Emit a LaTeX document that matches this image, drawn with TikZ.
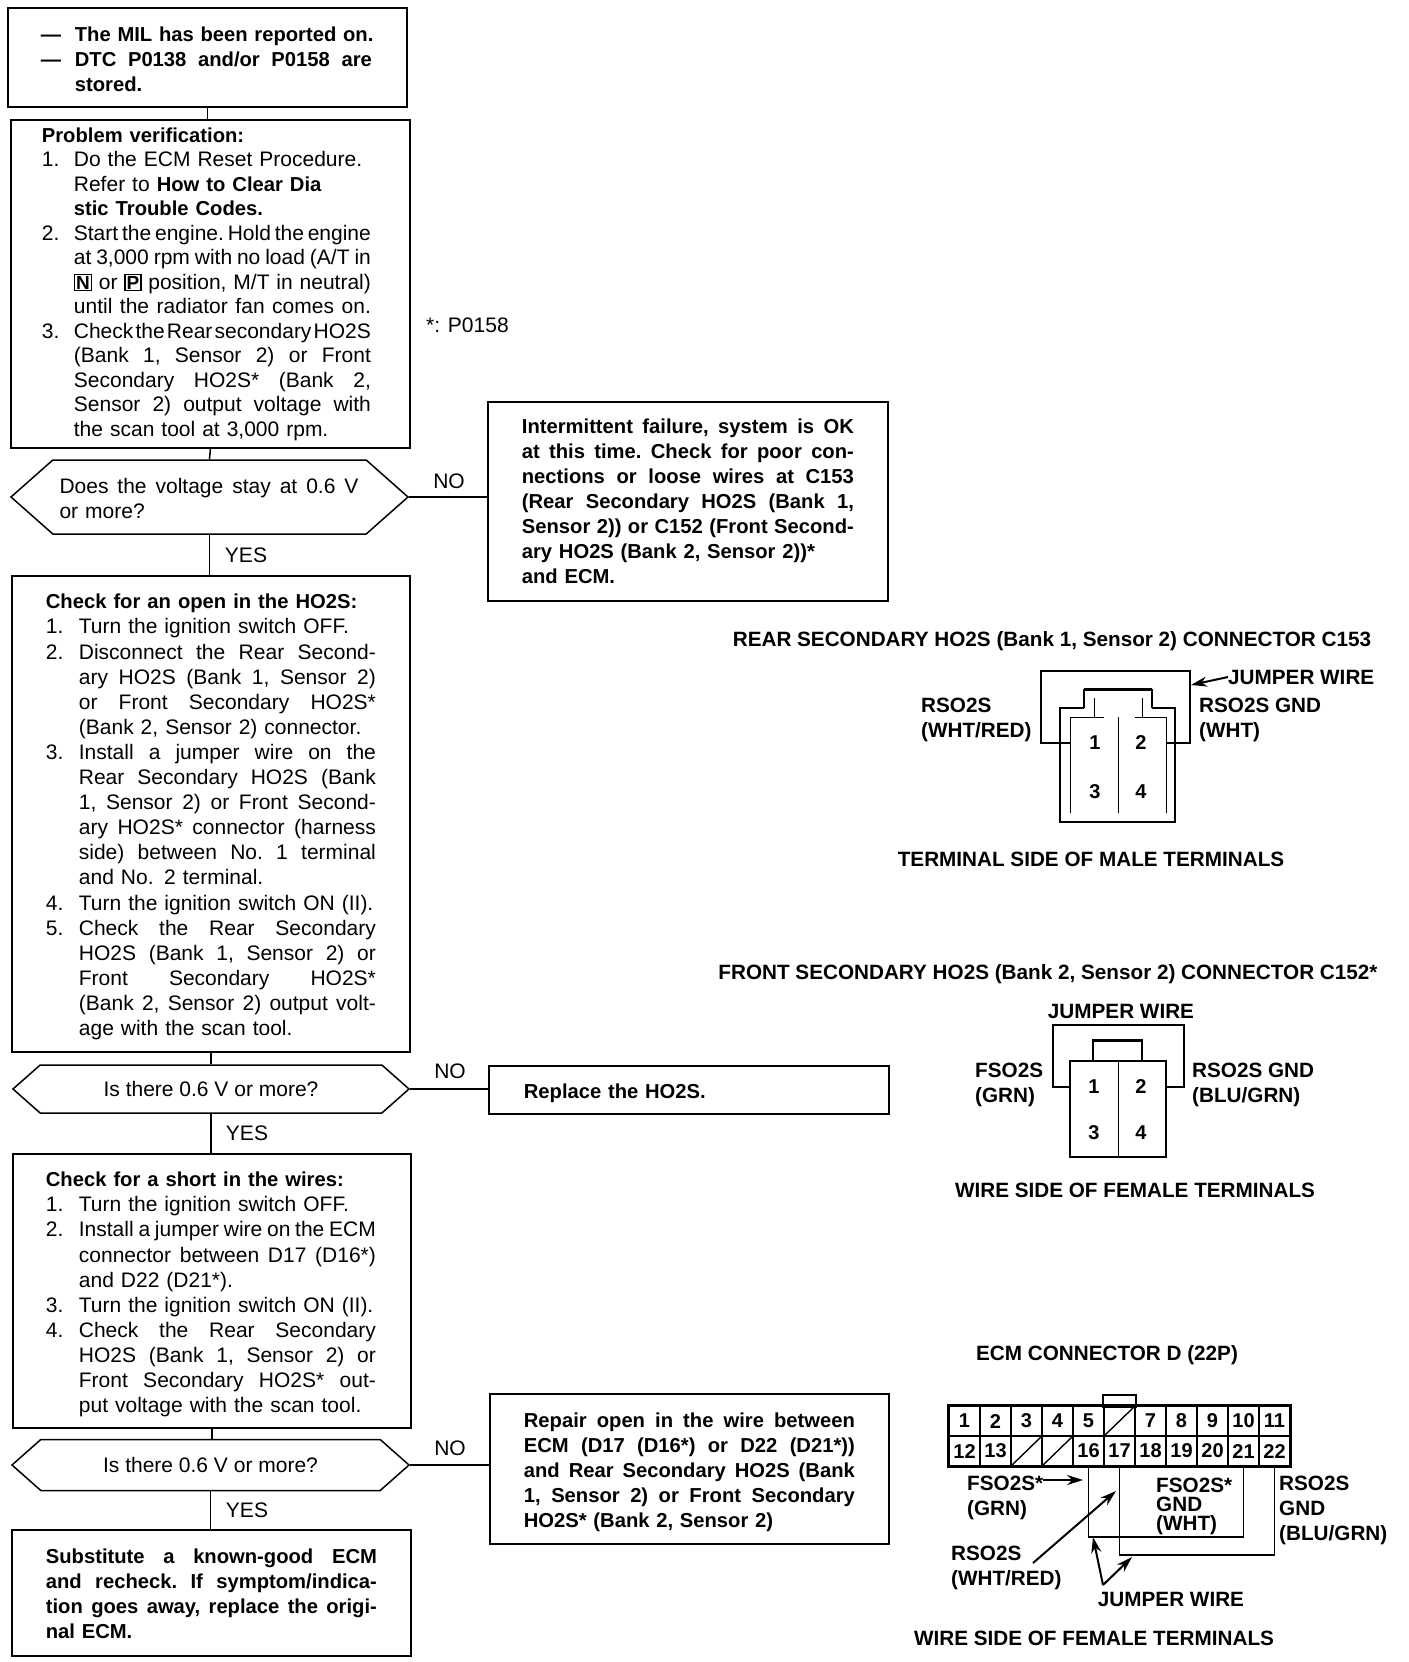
\documentclass[tikz,border=0pt]{standalone}
\usepackage{fontspec}
\setmainfont{Liberation Sans}
\usepackage{tikz}
\usetikzlibrary{arrows.meta, shapes.symbols}
\newcommand{\bodyfont}{\fontsize{21}{25.1}\selectfont}
\newcommand{\boldfont}{\bfseries\fontsize{20.2}{25.1}\selectfont}
\newcommand{\hb}[1]{{\boldfont #1}}
\newcommand{\nr}[2][32pt]{\makebox[#1][l]{#2}}
\newcommand{\jl}[2][297pt]{\leavevmode\hbox to #1{\frenchspacing\spaceskip=.06em plus 1fil\relax #2}}
\newcommand{\topgap}[1]{\leavevmode\rule{0pt}{\dimexpr 15pt+#1\relax}}
\newcommand{\gearbox}[1]{\raisebox{0pt}[12pt][3pt]{\fboxsep=1pt\fboxrule=1.2pt\fbox{\fontsize{19}{19}\selectfont\textbf{#1}}}}
\tikzset{
    flowbox/.style={draw, line width=1.8pt, anchor=north west, inner sep=0pt, align=left, font=\bodyfont},
    boldbox/.style={flowbox, font=\boldfont},
    hexbox/.style={draw, line width=1.5pt, signal, signal to=west and east, signal pointer angle=83, inner sep=0pt, align=left, font=\bodyfont},
    flowtext/.style={inner sep=0pt, font=\bodyfont},
    conlabel/.style={inner sep=0pt, anchor=west, align=left, font=\bfseries\fontsize{20.7}{25}\selectfont},
    contitle/.style={inner sep=0pt, font=\bfseries\fontsize{20.7}{25}\selectfont},
    pinbox/.style={draw, line width=1.5pt, inner sep=0pt, minimum width=31pt, minimum height=30pt, font=\bfseries\fontsize{20}{20}\selectfont},
    pinnum/.style={inner sep=0pt, font=\bfseries\fontsize{20}{20}\selectfont},
    ptr/.style={line width=2pt, -{Stealth[length=16pt, width=10pt]}},
    wire/.style={line width=1.6pt}
}
\begin{document}
\begin{tikzpicture}[x=1pt, y=-1pt]
            \useasboundingbox (0,0) rectangle (1408,1662);

            % left column
            \node[boldbox, minimum width=399pt, minimum height=99pt, text width=333pt] (mil) at (7,7)
                {\topgap{4pt}\nr[34pt]{---}The MIL has been reported on.\\
                 \nr[34pt]{---}\jl{DTC P0138 and/or P0158 are}\\
                 \nr[34pt]{}stored.};
            \node[flowbox, minimum width=399pt, minimum height=328pt, text width=337pt, font=\fontsize{21}{24.5}\selectfont] (verify) at (10,119)
                {\hb{Problem verification:}\\
                 \nr{1.}Do the ECM Reset Procedure.\\
                 \nr{}Refer to \hb{How to Clear Dia}\\
                 \nr{}\hb{stic Trouble Codes.}\\
                 \nr{2.}\jl{Start the engine. Hold the engine}\\
                 \nr{}\jl{at 3,000 rpm with no load (A/T in}\\
                 \nr{}\jl{\gearbox{N} or \gearbox{P} position, M/T in neutral)}\\
                 \nr{}\jl{until the radiator fan comes on.}\\
                 \nr{3.}\jl{Check the Rear secondary HO2S}\\
                 \nr{}\jl{(Bank 1, Sensor 2) or Front}\\
                 \nr{}\jl{Secondary HO2S* (Bank 2,}\\
                 \nr{}\jl{Sensor 2) output voltage with}\\
                 \nr{}the scan tool at 3,000 rpm.};
            \node[hexbox, minimum width=397pt, minimum height=74pt, text width=300pt] (stay) at (209.5,497)
                {\topgap{4pt}\jl[299pt]{Does the voltage stay at 0.6 V}\\or more?};
            \node[flowbox, minimum width=398pt, minimum height=476pt, text width=330pt] (opencheck) at (11,575)
                {\topgap{6pt}\hb{Check for an open in the HO2S:}\\
                 \nr[33pt]{1.}Turn the ignition switch OFF.\\
                 \nr[33pt]{2.}\jl{Disconnect the Rear Second-}\\
                 \nr[33pt]{}\jl{ary HO2S (Bank 1, Sensor 2)}\\
                 \nr[33pt]{}\jl{or Front Secondary HO2S*}\\
                 \nr[33pt]{}(Bank 2, Sensor 2) connector.\\
                 \nr[33pt]{3.}\jl{Install a jumper wire on the}\\
                 \nr[33pt]{}\jl{Rear Secondary HO2S (Bank}\\
                 \nr[33pt]{}\jl{1, Sensor 2) or Front Second-}\\
                 \nr[33pt]{}\jl{ary HO2S* connector (harness}\\
                 \nr[33pt]{}\jl{side) between No. 1 terminal}\\
                 \nr[33pt]{}and No. 2 terminal.\\
                 \nr[33pt]{4.}Turn the ignition switch ON (II).\\
                 \nr[33pt]{5.}\jl{Check the Rear Secondary}\\
                 \nr[33pt]{}\jl{HO2S (Bank 1, Sensor 2) or}\\
                 \nr[33pt]{}\jl{Front Secondary HO2S*}\\
                 \nr[33pt]{}\jl{(Bank 2, Sensor 2) output volt-}\\
                 \nr[33pt]{}age with the scan tool.};
            \node[hexbox, minimum width=396pt, minimum height=48pt] (volt1) at (211,1089)
                {Is there 0.6 V or more?};
            \node[flowbox, minimum width=398pt, minimum height=274pt, text width=332pt] (shortcheck) at (12,1153)
                {\topgap{7pt}\hb{Check for a short in the wires:}\\
                 \nr[33pt]{1.}Turn the ignition switch OFF.\\
                 \nr[33pt]{2.}\jl{Install a jumper wire on the ECM}\\
                 \nr[33pt]{}\jl{connector between D17 (D16*)}\\
                 \nr[33pt]{}and D22 (D21*).\\
                 \nr[33pt]{3.}Turn the ignition switch ON (II).\\
                 \nr[33pt]{4.}\jl{Check the Rear Secondary}\\
                 \nr[33pt]{}\jl{HO2S (Bank 1, Sensor 2) or}\\
                 \nr[33pt]{}\jl{Front Secondary HO2S* out-}\\
                 \nr[33pt]{}put voltage with the scan tool.};
            \node[hexbox, minimum width=397pt, minimum height=51pt] (volt2) at (210.5,1465)
                {\raisebox{-2pt}{Is there 0.6 V or more?}};
            \node[boldbox, minimum width=399pt, minimum height=126pt, text width=331pt] (ecmswap) at (11,1529)
                {\topgap{2pt}\jl[331pt]{Substitute a known-good ECM}\\
                 \jl[331pt]{and recheck. If symptom/indica-}\\
                 \jl[331pt]{tion goes away, replace the origi-}\\
                 nal ECM.};

            % right hand boxes
            \node[boldbox, minimum width=400pt, minimum height=199pt, text width=332pt] (intermit) at (487,401)
                {\jl[332pt]{Intermittent failure, system is OK}\\
                 \jl[332pt]{at this time. Check for poor con-}\\
                 \jl[332pt]{nections or loose wires at C153}\\
                 \jl[332pt]{(Rear Secondary HO2S (Bank 1,}\\
                 \jl[332pt]{Sensor 2)) or C152 (Front Second-}\\
                 ary HO2S (Bank 2, Sensor 2))*\\
                 and ECM.};
            \node[boldbox, minimum width=400pt, minimum height=48pt, text width=330pt] (replace) at (488,1065)
                {\topgap{6pt}Replace the HO2S.};
            \node[boldbox, minimum width=399pt, minimum height=150pt, text width=331pt] (repair) at (489,1393)
                {\topgap{6pt}\jl[331pt]{Repair open in the wire between}\\
                 \jl[331pt]{ECM (D17 (D16*) or D22 (D21*))}\\
                 \jl[331pt]{and Rear Secondary HO2S (Bank}\\
                 \jl[331pt]{1, Sensor 2) or Front Secondary}\\
                 HO2S* (Bank 2, Sensor 2)};

            \node[flowtext, anchor=west] (note) at (426,325) {*: P0158};
            \node[flowtext] (no1) at (449,481) {NO};
            \node[flowtext] (no2) at (450,1071) {NO};
            \node[flowtext] (no3) at (450,1448) {NO};
            \node[flowtext] (yes1) at (246,555) {YES};
            \node[flowtext] (yes2) at (247,1133) {YES};
            \node[flowtext] (yes3) at (247,1510) {YES};

            \begin{scope}[line width=1.5pt]
            \draw (mil.south) -- (mil.south |- verify.north);
            \draw (verify.south) -- (stay.north);
            \draw (stay.south) -- (stay.south |- opencheck.north);
            \draw (opencheck.south) -- (opencheck.south |- volt1.north);
            \draw (volt1.south) -- (volt1.south |- shortcheck.north);
            \draw (shortcheck.south) -- (shortcheck.south |- volt2.north);
            \draw (volt2.south) -- (volt2.south |- ecmswap.north);
            \draw (stay.east) -- (stay.east -| intermit.west);
            \draw (volt1.east) -- (volt1.east -| replace.west);
            \draw (volt2.east) -- (volt2.east -| repair.west);
            \end{scope}

            % connector C153
            \node[contitle] (rearttl) at (1052,641) {REAR SECONDARY HO2S (Bank 1, Sensor 2) CONNECTOR C153};
            \node[conlabel] (rjump) at (1228,677) {JUMPER WIRE};
            \node[conlabel] (rsig) at (921,720) {RSO2S\\(WHT/RED)};
            \node[conlabel] (rgnd) at (1199,720) {RSO2S GND\\(WHT)};
            \node[pinnum] (r1) at (1095,743) {1};
            \node[pinnum] (r2) at (1141,743) {2};
            \node[pinnum] (r3) at (1095,792) {3};
            \node[pinnum] (r4) at (1141,792) {4};
            \node[contitle] (rearside) at (1091,859) {TERMINAL SIDE OF MALE TERMINALS};
            \coordinate (rtip) at (1191,685);
            \draw[wire] (1070,743) -- (1041,743) -- (1041,671) -- (1190,671) -- (1190,743) -- (1166,743);
            \draw[wire] (1084,708) -- (1060,708) -- (1060,822) -- (1175,822) -- (1175,708) -- (1152,708);
            \draw[wire] (1084,708) -- (1084,689);
            \draw[wire] (1152,708) -- (1152,689);
            \draw[line width=3pt] (1084,689) -- (1152,689);
            \draw (1070,717) -- (1070,813) (1118,717) -- (1118,813) (1166,717) -- (1166,813);
            \draw (1070,717) -- (1104,717) (1135,717) -- (1166,717);
            \draw (1094,698) -- (1094,717) (1142,698) -- (1142,717);
            \draw[ptr] (rjump.west) -- (rtip);

            % connector C152
            \node[contitle] (frontttl) at (1048,974) {FRONT SECONDARY HO2S (Bank 2, Sensor 2) CONNECTOR C152*};
            \node[contitle] (fjump) at (1121,1011) {JUMPER WIRE};
            \node[conlabel] (fsig) at (975,1085) {FSO2S\\(GRN)};
            \node[conlabel] (fgnd) at (1192,1085) {RSO2S GND\\(BLU/GRN)};
            \node[draw, line width=1.6pt, inner sep=0pt, minimum width=96pt, minimum height=96pt] (fbody) at (1118,1109) {};
            \node[draw, line width=1.6pt, inner sep=0pt, minimum width=49pt, minimum height=20pt] (fbridge) at (1117.5,1051) {};
            \node[pinnum] (f1) at (1094,1087) {1};
            \node[pinnum] (f2) at (1141,1087) {2};
            \node[pinnum] (f3) at (1094,1133) {3};
            \node[pinnum] (f4) at (1141,1133) {4};
            \node[contitle] (frontside) at (1135,1190) {WIRE SIDE OF FEMALE TERMINALS};
            \coordinate (fwa) at (1053,1025);
            \coordinate (fwb) at (1184,1087);
            \draw[wire] (fbody.west |- f1) -| (fwa) -| (fwb) -- (fbody.east |- f2);
            \draw (fbody.north) -- (fbody.south);
            \draw[line width=3pt] (fbridge.north west) -- (fbridge.north east);

            % ECM connector
            \node[contitle] (ecmttl) at (1107,1355) {ECM CONNECTOR D (22P)};
            \node[draw, line width=2.8pt, inner sep=0pt, minimum width=33pt, minimum height=12pt] (tab) at (1119.5,1401) {};
            \node[pinbox] (c1) at (964.5,1421) {1};
            \node[pinbox] (c2) at (995.5,1421) {2};
            \node[pinbox] (c3) at (1026.5,1421) {3};
            \node[pinbox] (c4) at (1057.5,1421) {4};
            \node[pinbox] (c5) at (1088.5,1421) {5};
            \node[pinbox] (c6) at (1119.5,1421) {};
            \node[pinbox] (c7) at (1150.5,1421) {7};
            \node[pinbox] (c8) at (1181.5,1421) {8};
            \node[pinbox] (c9) at (1212.5,1421) {9};
            \node[pinbox] (c10) at (1243.5,1421) {10};
            \node[pinbox] (c11) at (1274.5,1421) {11};
            \node[pinbox] (c12) at (964.5,1451) {12};
            \node[pinbox] (c13) at (995.5,1451) {13};
            \node[pinbox] (c14) at (1026.5,1451) {};
            \node[pinbox] (c15) at (1057.5,1451) {};
            \node[pinbox] (c16) at (1088.5,1451) {16};
            \node[pinbox] (c17) at (1119.5,1451) {17};
            \node[pinbox] (c18) at (1150.5,1451) {18};
            \node[pinbox] (c19) at (1181.5,1451) {19};
            \node[pinbox] (c20) at (1212.5,1451) {20};
            \node[pinbox] (c21) at (1243.5,1451) {21};
            \node[pinbox] (c22) at (1274.5,1451) {22};
            \draw[line width=1.4pt] (c6.south west) -- (c6.north east);
            \draw[line width=1.4pt] (c14.south west) -- (c14.north east);
            \draw[line width=1.4pt] (c15.south west) -- (c15.north east);
            \draw[line width=3.4pt] (c1.north west) rectangle (c22.south east);
            \coordinate (jmpa) at (1165,1537);
            \coordinate (jmpb) at (1195,1555);
            \draw[wire] (c16.south) |- (jmpa) -| (c21.south);
            \draw[wire] (c17.south) |- (jmpb) -| (c22.south);

            \node[conlabel] (esig) at (967,1498) {FSO2S*\\(GRN)};
            \node[conlabel, font=\bfseries\fontsize{20.7}{19}\selectfont] (ein) at (1156,1506) {FSO2S*\\GND\\(WHT)};
            \node[conlabel] (egnd) at (1279,1510) {RSO2S\\GND\\(BLU/GRN)};
            \node[conlabel] (erd) at (951,1568) {RSO2S\\(WHT/RED)};
            \node[contitle] (ejump) at (1171,1599) {JUMPER WIRE};
            \node[contitle] (ecmside) at (1094,1638) {WIRE SIDE OF FEMALE TERMINALS};
            \coordinate (etipa) at (1083,1480);
            \coordinate (etipb) at (1116,1491);
            \coordinate (efoot) at (1033,1563);
            \coordinate (jfoot) at (1103,1585);
            \coordinate (jtipa) at (1093,1537);
            \coordinate (jtipb) at (1132,1557);
            \draw[ptr] (esig.east |- etipa) -- (etipa);
            \draw[ptr] (efoot) -- (etipb);
            \draw[ptr] (jfoot) -- (jtipa);
            \draw[ptr] (jfoot) -- (jtipb);
        \end{tikzpicture}
\end{document}
